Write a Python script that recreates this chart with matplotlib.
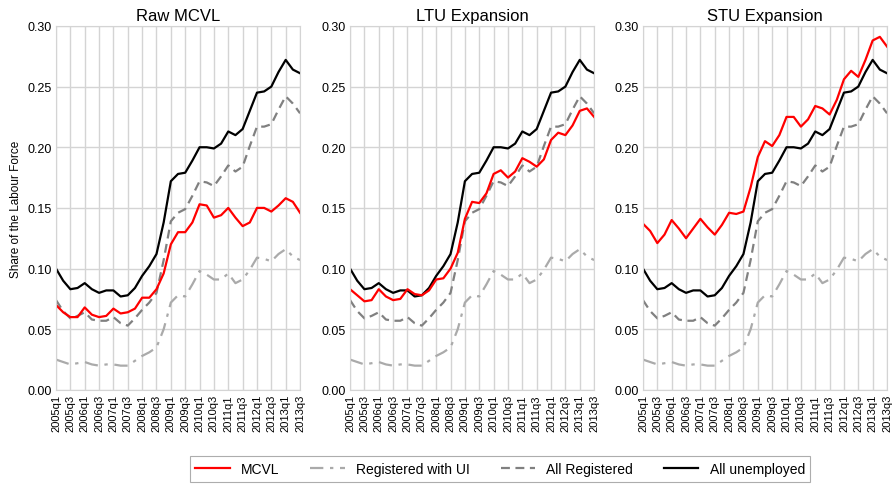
import matplotlib
matplotlib.use("Agg")
import matplotlib.pyplot as plt
from matplotlib.lines import Line2D

plt.rcParams['font.family'] = ['Liberation Sans', 'DejaVu Sans']

# Quarters 2005q1 .. 2013q3
quarters = [f"{y}q{q}" for y in range(2005, 2014) for q in range(1, 5)][:35]

# Series shared across panels (share of the labour force)
all_unemployed = [0.100, 0.090, 0.083, 0.084, 0.088, 0.083, 0.080, 0.082, 0.082, 0.077,
                  0.078, 0.084, 0.094, 0.102, 0.112, 0.138, 0.172, 0.178, 0.179, 0.189,
                  0.200, 0.200, 0.199, 0.203, 0.213, 0.210, 0.215, 0.230, 0.245, 0.246,
                  0.250, 0.262, 0.272, 0.264, 0.261]
all_registered = [0.074, 0.065, 0.059, 0.061, 0.064, 0.058, 0.057, 0.057, 0.060, 0.055,
                  0.053, 0.059, 0.066, 0.072, 0.080, 0.107, 0.139, 0.146, 0.149, 0.160,
                  0.172, 0.171, 0.168, 0.176, 0.185, 0.180, 0.184, 0.201, 0.217, 0.217,
                  0.219, 0.231, 0.242, 0.236, 0.228]
registered_ui = [0.025, 0.023, 0.021, 0.022, 0.023, 0.021, 0.020, 0.021, 0.021, 0.020,
                 0.020, 0.024, 0.028, 0.031, 0.035, 0.050, 0.072, 0.078, 0.077, 0.087,
                 0.098, 0.095, 0.091, 0.091, 0.096, 0.088, 0.091, 0.099, 0.109, 0.108,
                 0.106, 0.112, 0.116, 0.110, 0.107]

# MCVL series, one per panel
mcvl_raw = [0.070, 0.064, 0.060, 0.060, 0.068, 0.062, 0.060, 0.061, 0.067, 0.063,
            0.064, 0.067, 0.076, 0.076, 0.083, 0.096, 0.120, 0.130, 0.130, 0.138,
            0.153, 0.152, 0.142, 0.144, 0.150, 0.142, 0.135, 0.138, 0.150, 0.150,
            0.147, 0.152, 0.158, 0.155, 0.146]
mcvl_ltu = [0.083, 0.078, 0.073, 0.074, 0.083, 0.077, 0.074, 0.075, 0.083, 0.079,
            0.078, 0.082, 0.091, 0.092, 0.100, 0.113, 0.141, 0.155, 0.154, 0.162,
            0.178, 0.181, 0.175, 0.180, 0.191, 0.188, 0.184, 0.190, 0.206, 0.212,
            0.210, 0.218, 0.230, 0.232, 0.225]
mcvl_stu = [0.137, 0.131, 0.121, 0.128, 0.140, 0.133, 0.125, 0.133, 0.141, 0.134,
            0.128, 0.136, 0.146, 0.145, 0.147, 0.167, 0.192, 0.205, 0.201, 0.210,
            0.225, 0.225, 0.217, 0.223, 0.234, 0.232, 0.227, 0.239, 0.256, 0.263,
            0.258, 0.272, 0.288, 0.291, 0.283]

titles = ["Raw MCVL", "LTU Expansion", "STU Expansion"]
mcvl_series = [mcvl_raw, mcvl_ltu, mcvl_stu]

fig = plt.figure(figsize=(8.93, 4.85), dpi=100)
lefts = [0.0627, 0.392, 0.720]
x = list(range(len(quarters)))

for left, title, mcvl in zip(lefts, titles, mcvl_series):
    ax = fig.add_axes([left, 0.194, 0.2733, 0.7505])
    ax.plot(x, registered_ui, color="#aaaaaa", lw=1.6, ls="-.", dashes=(6, 3, 1.5, 3))
    ax.plot(x, all_registered, color="#808080", lw=1.6, ls="--", dashes=(4, 2.5))
    ax.plot(x, all_unemployed, color="black", lw=1.6)
    ax.plot(x, mcvl, color="red", lw=1.6)

    ax.set_xlim(0, len(quarters) - 1)
    ax.set_ylim(0, 0.30)
    ax.set_yticks([0.0, 0.05, 0.10, 0.15, 0.20, 0.25, 0.30])
    ax.set_yticklabels([f"{v:.2f}" for v in ax.get_yticks()], fontsize=9)
    ax.set_xticks(x[::2])
    ax.set_xticklabels(quarters[::2], rotation=90, fontsize=8)
    ax.tick_params(length=0, pad=3)
    ax.grid(True, color="#d4d4d4", lw=1)
    ax.set_axisbelow(True)
    for sp in ax.spines.values():
        sp.set_color("#d4d4d4")
    ax.set_title(title, fontsize=12, pad=4)
    if left == lefts[0]:
        ax.set_ylabel("Share of the Labour Force", fontsize=8.5)

handles = [
    Line2D([], [], color="red", lw=1.6),
    Line2D([], [], color="#aaaaaa", lw=1.6, ls="-.", dashes=(6, 3, 1.5, 3)),
    Line2D([], [], color="#808080", lw=1.6, ls="--", dashes=(4, 2.5)),
    Line2D([], [], color="black", lw=1.6),
]
labels = ["MCVL", "Registered with UI", "All Registered", "All unemployed"]
leg = fig.legend(handles, labels, loc="center", bbox_to_anchor=(0.56, 0.031), ncol=4,
                 fontsize=10, frameon=True, fancybox=False, edgecolor="#999999",
                 handlelength=2.5, columnspacing=2.2, borderpad=0.4)
leg.get_frame().set_linewidth(0.8)

fig.savefig("out.png", dpi=100)
